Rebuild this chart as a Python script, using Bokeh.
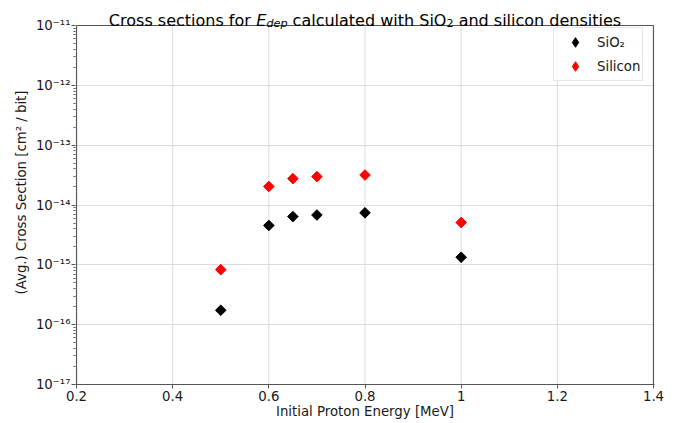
import numpy as np
from bokeh.plotting import figure
from bokeh.models import (ColumnDataSource, FixedTicker, CustomJSTickFormatter, Label,
                          Legend, LegendItem, Range1d)
from bokeh.embed import file_html
from bokeh.resources import INLINE

# ---- data ----
energy_sio2 = [0.5, 0.6, 0.65, 0.7, 0.8, 1.0]
xs_sio2 = [1.74e-16, 4.55e-15, 6.4e-15, 6.8e-15, 7.4e-15, 1.34e-15]
energy_si = [0.5, 0.6, 0.65, 0.7, 0.8, 1.0]
xs_si = [8.3e-16, 2.04e-14, 2.76e-14, 2.98e-14, 3.17e-14, 5.1e-15]
x_ticks = [0.2, 0.4, 0.6, 0.8, 1.0, 1.2, 1.4]
y_ticks = [1e-17, 1e-16, 1e-15, 1e-14, 1e-13, 1e-12, 1e-11]
series_labels = ["SiO\u2082", "Silicon"]
x_label = "Initial Proton Energy [MeV]"
y_label = "(Avg.) Cross Section [cm\u00b2 / bit]"

# ---- layout (page pixels) ----
W, H = 685, 423
BOX_L, BOX_R, BOX_T, BOX_B = 76, 653, 25, 384   # visible axes box
X0, X1 = 0.2, 1.4
Y0, Y1 = 1e-17, 1e-11
PXU = (BOX_R - BOX_L) / (X1 - X0)              # px per x unit
DEC = (BOX_B - BOX_T) / 6.0                     # px per decade
FONT = "DejaVu Sans"
GRID = "#dcdcdc"
SPINE = "#555555"

# frame extends 1px left/right and up to canvas top so title text can live in it
XR0 = X0 - 1.0 / PXU
XR1 = X1 + 1.0 / PXU
YTOP = Y1 * 10 ** (BOX_T / DEC)


def xd(px):
    return X0 + (px - BOX_L) / PXU


def yd(py):
    return Y1 * 10 ** ((BOX_T - py) / DEC)


p = figure(width=W, height=H, y_axis_type="log",
           x_range=Range1d(XR0, XR1), y_range=Range1d(Y0, YTOP),
           output_backend="svg", toolbar_location=None, title=None,
           min_border_left=BOX_L - 1, min_border_right=W - BOX_R - 1,
           min_border_top=0, min_border_bottom=H - BOX_B)
p.background_fill_color = "white"
p.border_fill_color = "white"
p.outline_line_color = None

# grid (vertical lines only inside the axes box)
p.xgrid.visible = False
p.segment(x0=x_ticks, y0=[Y0] * len(x_ticks), x1=x_ticks, y1=[Y1] * len(x_ticks),
          line_color=GRID, line_width=1)
p.ygrid.grid_line_color = GRID
p.ygrid.grid_line_width = 1

# spines: left, right, top
p.segment(x0=[X0, X1, X0], y0=[Y0, Y0, Y1], x1=[X0, X1, X1], y1=[Y1, Y1, Y1],
          line_color=SPINE, line_width=1.2)

src1 = ColumnDataSource(dict(x=energy_sio2, y=xs_sio2))
src2 = ColumnDataSource(dict(x=energy_si, y=xs_si))
# diamonds used for the legend (fully covered by the square markers drawn on top)
l1 = p.scatter(x="x", y="y", source=src1, marker="diamond", size=9,
               fill_color="black", line_color="black")
l2 = p.scatter(x="x", y="y", source=src2, marker="diamond", size=9,
               fill_color="red", line_color="red")
r1 = p.scatter(x="x", y="y", source=src1, marker="square", angle=np.pi / 4, size=7.5,
               fill_color="black", line_color="black")
r2 = p.scatter(x="x", y="y", source=src2, marker="square", angle=np.pi / 4, size=7.5,
               fill_color="red", line_color="red")

# axes
p.xaxis.ticker = FixedTicker(ticks=x_ticks)
minor = [k * 10.0 ** e for e in range(-17, -11) for k in range(2, 10)]
p.yaxis.ticker = FixedTicker(ticks=y_ticks, minor_ticks=minor)
p.yaxis.formatter = CustomJSTickFormatter(code="""
const sup = {"-":"\u207b","0":"\u2070","1":"\u00b9","2":"\u00b2","3":"\u00b3","4":"\u2074","5":"\u2075","6":"\u2076","7":"\u2077","8":"\u2078","9":"\u2079"};
const e = Math.round(Math.log10(tick));
return "10" + String(e).split("").map(c => sup[c]).join("");
""")
for ax in (p.xaxis, p.yaxis):
    ax.axis_line_color = SPINE
    ax.axis_line_width = 1.2
    ax.major_tick_line_color = SPINE
    ax.major_tick_out = 4
    ax.major_tick_in = 0
    ax.major_label_text_font = FONT
    ax.major_label_text_font_size = "13.3px"
    ax.major_label_text_color = "#1a1a1a"
    ax.axis_label_text_font = FONT
    ax.axis_label_text_font_size = "13.3px"
    ax.axis_label_text_font_style = "normal"
    ax.axis_label_text_color = "#1a1a1a"
p.yaxis.axis_line_color = None
p.xaxis.major_label_standoff = 2
p.xaxis.axis_label_standoff = 0
p.yaxis.major_label_standoff = 1
p.yaxis.axis_label_standoff = 4
p.xaxis.minor_tick_line_color = None
p.yaxis.minor_tick_line_color = SPINE
p.yaxis.minor_tick_out = 2
p.yaxis.minor_tick_in = 0
p.xaxis.axis_label = x_label
p.yaxis.axis_label = y_label

# legend
LEG_PAD, LEG_GW, LEG_GH, LEG_SP = 2, 38, 24, -2
leg_h = 2 * LEG_PAD + 2 * LEG_GH + LEG_SP
LEG_LEFT, LEG_TOP = 553, 31
legend = Legend(items=[LegendItem(label=series_labels[0], renderers=[l1]),
                       LegendItem(label=series_labels[1], renderers=[l2])])
legend.location = (LEG_LEFT - (BOX_L - 1), BOX_B - (LEG_TOP + leg_h))
legend.margin = 0
legend.border_line_color = "#d0d0d0"
legend.border_line_width = 1
legend.background_fill_alpha = 0.9
legend.label_text_font = FONT
legend.label_text_font_size = "13.3px"
legend.label_text_color = "#1a1a1a"
legend.glyph_width = LEG_GW
legend.glyph_height = LEG_GH
legend.label_height = LEG_GH
legend.label_standoff = 3
legend.padding = LEG_PAD
legend.spacing = LEG_SP
p.add_layout(legend)

# ---- composed title (mathtext-like) ----
ADV = {' ': 651, 'C': 1430, 'r': 842, 'o': 1253, 's': 1067, 'e': 1260, 'c': 1126,
       't': 803, 'i': 569, 'n': 1298, 'f': 721, 'a': 1255, 'l': 569, 'u': 1298,
       'd': 1300, 'w': 1675, 'h': 1298, 'S': 1300, 'O': 1612, '2': 1303, 'E': 1294,
       'p': 1300}


def tw(s, size):
    return sum(ADV[c] for c in s) / 2048.0 * size


TS = 16.0
SS = 11.2
pieces = [("Cross sections for", TS, "normal", 0.0, True),
          ("E", TS, "italic", 0.0, False),
          ("dep", SS, "italic", 3.5, True),
          ("calculated with SiO", TS, "normal", 0.0, False),
          ("2", SS, "normal", 3.0, True),
          ("and silicon densities", TS, "normal", 0.0, False)]
total = sum(tw(t, sz) + (tw(" ", TS) if sp else 0) for t, sz, st, dy, sp in pieces)
cur = (BOX_L + BOX_R) / 2.0 - total / 2.0
BASE = 19.5
for txt, sz, st, dy, sp in pieces:
    p.add_layout(Label(x=xd(cur), y=yd(BASE + dy), x_units="data", y_units="data", text=txt,
                       text_font=FONT, text_font_size=f"{sz}px", text_font_style=st,
                       text_color="black", text_baseline="alphabetic", text_align="left"))
    cur += tw(txt, sz) + (tw(" ", TS) if sp else 0)

open("out.html", "w").write(file_html(p, INLINE))
